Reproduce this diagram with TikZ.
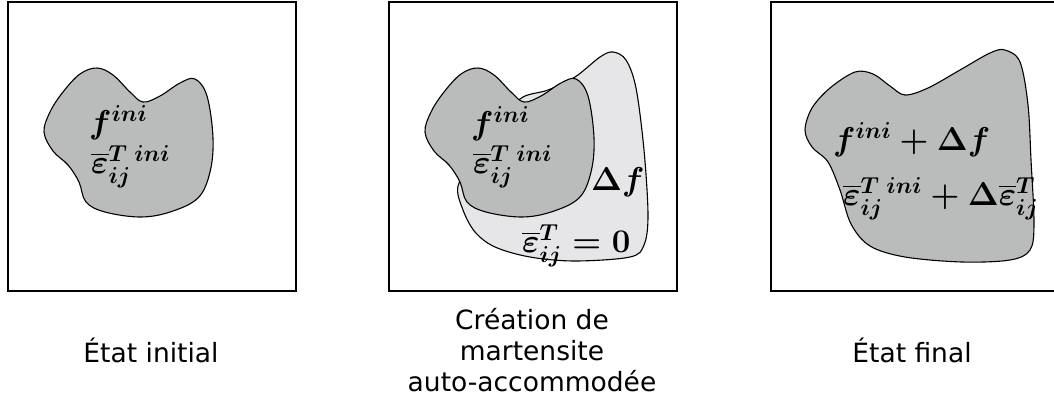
\RequirePackage{fix-cm}
\documentclass[tikz,border=0pt]{standalone}
\usepackage{fontspec}
\usepackage{amsmath}
\newfontfamily\capfont{DejaVu Sans}
\definecolor{blobdark}{RGB}{186,188,187}
\definecolor{bloblight}{RGB}{230,230,232}
\newcommand{\epsb}{\overline{\varepsilon}}
\begin{document}
\begin{tikzpicture}[x=1pt,y=-1pt,
  frame/.style={draw, line width=2pt, minimum width=288pt, minimum height=289pt, anchor=north west, inner sep=0pt},
  blobline/.style={draw, line width=1.1pt, line join=round},
  mathlbl/.style={anchor=base west, inner sep=0pt, font=\fontsize{33}{40}\selectfont\boldmath},
  caption/.style={font=\capfont\fontsize{26.5}{31}\selectfont, align=center, inner sep=0pt},
  pics/blobA/.style={code={
    \draw[blobline, fill=blobdark] plot[smooth cycle, tension=0.6] coordinates {
      (97,68) (113,75) (130,92) (143,102) (160,96) (180,83) (195,79) (207,96)
      (213,138) (210,172) (198,198) (170,212) (140,217) (105,212) (86,202)
      (79,182) (68,165) (53,151) (44,132) (50,112) (63,92) (80,74)};
  }}]
\useasboundingbox (0,0) rectangle (1054,407);

% frames
\node[frame] (box1) at (7,1) {};
\node[frame] (box2) at (388,1) {};
\node[frame] (box3) at (770,1) {};

% box 1
\pic at (0,0) {blobA};
\node[mathlbl] (f1) at (89,133) {$f^{ini}$};
\node[mathlbl] (e1) at (91,173) {$\epsb_{ij}^{T\;ini}$};

% box 2
\draw[blobline, fill=bloblight] plot[smooth cycle, tension=0.55] coordinates {
  (523,97) (548,90) (575,77) (600,57) (613,52) (626,60) (636,88) (644,150)
  (648,215) (644,245) (630,257) (575,261) (530,257) (495,247) (475,232)
  (463,210) (458,186) (475,160) (505,115)};
\pic at (381,0) {blobA};
\node[mathlbl] (f2) at (471,134) {$f^{ini}$};
\node[mathlbl] (e2) at (473,173) {$\epsb_{ij}^{T\;ini}$};
\node[mathlbl] (df) at (591,190) {$\Delta f$};
\node[mathlbl] (e0) at (522,252) {$\epsb_{ij}^{T}=0$};

% box 3
\draw[blobline, fill=blobdark] plot[smooth cycle, tension=0.55] coordinates {
  (855,72) (873,74) (890,86) (905,95) (928,88) (960,70) (990,53) (1005,50)
  (1020,62) (1028,105) (1031,160) (1034,223) (1030,250) (1010,260) (962,262)
  (905,257) (870,246) (851,224) (840,190) (828,162) (812,147) (805,130)
  (812,108) (830,88)};
\node[mathlbl] (f3) at (833,150) {$f^{ini}+\Delta f$};
\node[mathlbl] (e3) at (843,205) {$\epsb_{ij}^{T\;ini}+\Delta\epsb_{ij}^{T}$};

% captions
\node[caption, anchor=base] (c1) at (151,362) {État initial};
\node[caption, anchor=center] (c2) at (532,350) {Création de\\martensite\\auto-accommodée};
\node[caption, anchor=base] (c3) at (912,362) {État final};
\end{tikzpicture}
\end{document}
